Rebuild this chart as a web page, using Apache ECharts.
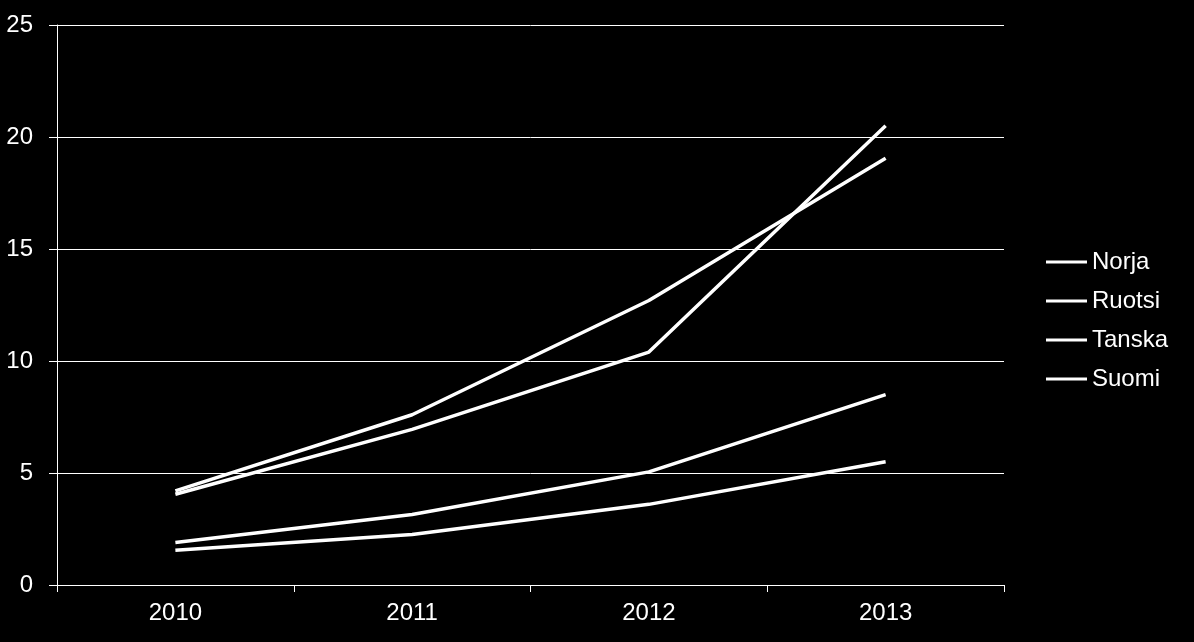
<!DOCTYPE html>
<html>
<head>
<meta charset="utf-8">
<script src="https://cdn.jsdelivr.net/npm/echarts@6/dist/echarts.min.js"></script>
<style>
html,body{margin:0;padding:0;background:#000;}
#c{width:1194px;height:642px;}
</style>
</head>
<body>
<div id="c"></div>
<script>
const categories = ['2010', '2011', '2012', '2013'];
const seriesNames = ['Norja', 'Ruotsi', 'Tanska', 'Suomi'];
const norja = [4.05, 6.95, 10.4, 20.5];
const ruotsi = [4.2, 7.6, 12.7, 19.05];
const tanska = [1.9, 3.15, 5.05, 8.5];
const suomi = [1.55, 2.25, 3.6, 5.5];
const yTicks = [0, 5, 10, 15, 20, 25];

const allValues = [norja, ruotsi, tanska, suomi];
const chart = echarts.init(document.getElementById('c'), null, {renderer: 'canvas'});
const font = 'Liberation Sans, Arial, sans-serif';
chart.setOption({
  backgroundColor: '#000',
  animation: false,
  grid: {left: 57, right: 190, top: 25, bottom: 57, containLabel: false},
  legend: {
    orient: 'vertical',
    left: 1041,
    top: 245,
    itemWidth: 41,
    itemHeight: 3,
    itemGap: 15,
    icon: 'rect',
    textStyle: {color: '#fff', fontSize: 24, fontFamily: font},
    data: seriesNames
  },
  xAxis: {
    type: 'category',
    data: categories,
    boundaryGap: true,
    axisLine: {show: true, lineStyle: {color: '#fff', width: 1}},
    axisTick: {show: true, length: 7, lineStyle: {color: '#fff'}},
    axisLabel: {color: '#fff', fontSize: 24, fontFamily: font, margin: 16},
    splitLine: {show: false}
  },
  yAxis: {
    type: 'value',
    min: yTicks[0],
    max: yTicks[yTicks.length - 1],
    interval: 5,
    axisLine: {show: true, lineStyle: {color: '#fff', width: 1}},
    axisTick: {show: true, length: 8, lineStyle: {color: '#fff'}},
    axisLabel: {color: '#fff', fontSize: 24, fontFamily: font, margin: 24},
    splitLine: {show: true, lineStyle: {color: '#fff', width: 1}}
  },
  series: seriesNames.map((n, i) => ({
    name: n,
    type: 'line',
    data: allValues[i],
    symbol: 'none',
    itemStyle: {color: '#fff'},
    lineStyle: {color: '#fff', width: 3.5}
  }))
});
</script>
</body>
</html>
